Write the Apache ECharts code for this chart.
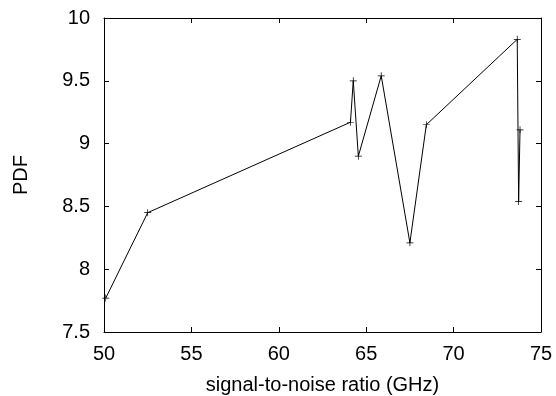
<!DOCTYPE html>
<html>
<head>
<meta charset="utf-8">
<script src="https://cdn.jsdelivr.net/npm/echarts@6/dist/echarts.min.js"></script>
<style>html,body{margin:0;padding:0;background:#fff}#c{width:556px;height:396px}</style>
</head>
<body>
<div id="c"></div>
<script>
const xValues = [50.1, 52.5, 64.1, 64.26, 64.55, 65.86, 67.5, 68.44, 73.64, 73.72, 73.8];
const yValues = [7.77, 8.45, 9.17, 9.5, 8.9, 9.54, 8.21, 9.15, 9.83, 8.54, 9.11];
const xTicks = {min: 50, max: 75, interval: 5};
const yTicks = {min: 7.5, max: 10, interval: 0.5};
const xLabel = 'signal-to-noise ratio (GHz)';
const yLabel = 'PDF';

const font = 'Liberation Sans, Arial, sans-serif';
const chart = echarts.init(document.getElementById('c'), null, {renderer: 'canvas'});
const axisLine = {show: true, lineStyle: {color: '#000', width: 1}};
const tick = {show: true, inside: true, length: 5, lineStyle: {color: '#000'}};
chart.setOption({
  animation: false,
  backgroundColor: '#fff',
  grid: {left: 104, right: 15, top: 18, bottom: 64, containLabel: false, outerBoundsMode: 'none'},
  xAxis: [{
    type: 'value', min: xTicks.min, max: xTicks.max, interval: xTicks.interval,
    position: 'bottom',
    name: xLabel, nameLocation: 'middle', nameGap: 43,
    nameTextStyle: {fontFamily: font, fontSize: 20, color: '#000'},
    axisLine: axisLine, axisTick: tick,
    axisLabel: {fontFamily: font, fontSize: 20, color: '#000', margin: 12},
    splitLine: {show: false}
  }, {
    type: 'value', min: xTicks.min, max: xTicks.max, interval: xTicks.interval,
    position: 'top', axisLine: axisLine, axisTick: tick,
    axisLabel: {show: false}, splitLine: {show: false}
  }],
  yAxis: [{
    type: 'value', min: yTicks.min, max: yTicks.max, interval: yTicks.interval,
    position: 'left',
    name: yLabel, nameLocation: 'middle', nameGap: 73,
    nameTextStyle: {fontFamily: font, fontSize: 20, color: '#000'},
    axisLine: axisLine, axisTick: tick,
    axisLabel: {fontFamily: font, fontSize: 20, color: '#000', margin: 14},
    splitLine: {show: false}
  }, {
    type: 'value', min: yTicks.min, max: yTicks.max, interval: yTicks.interval,
    position: 'right', axisLine: axisLine, axisTick: tick,
    axisLabel: {show: false}, splitLine: {show: false}
  }],
  series: [{
    type: 'line',
    data: xValues.map((x, i) => [x, yValues[i]]),
    symbol: 'path://M0,4.5h10v1h-10zM4.5,0h1v10h-1z',
    symbolSize: 7,
    itemStyle: {color: '#000'},
    lineStyle: {color: '#000', width: 1},
    showSymbol: true
  }]
});
</script>
</body>
</html>
